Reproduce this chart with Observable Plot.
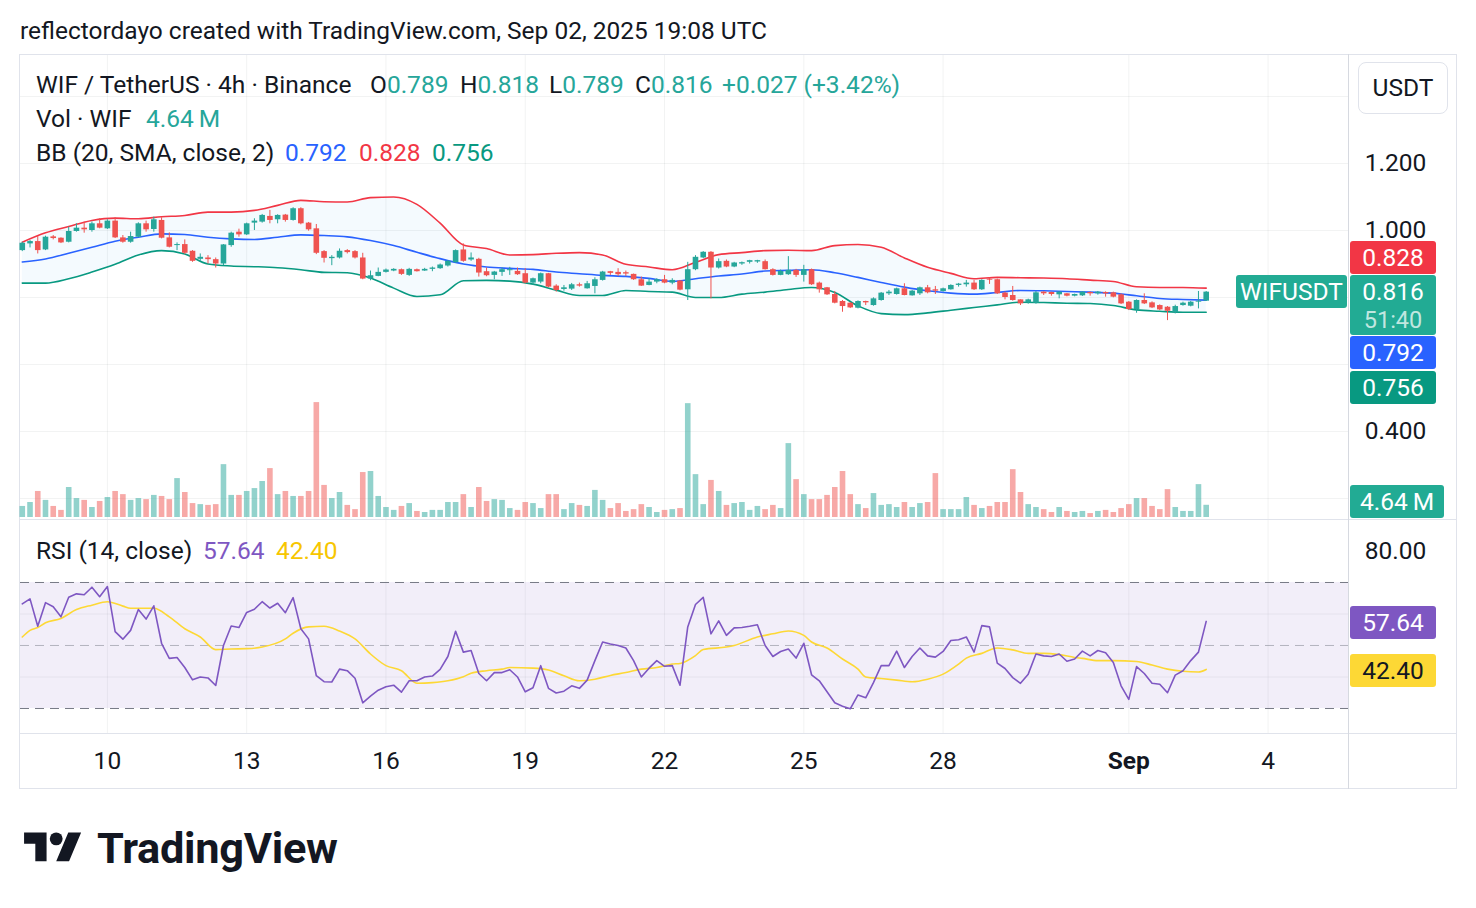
<!DOCTYPE html>
<html>
<head>
<meta charset="utf-8">
<script src="https://cdn.jsdelivr.net/npm/d3@7"></script>
<script src="https://cdn.jsdelivr.net/npm/@observablehq/plot@0.6"></script>
<style>
html,body{margin:0;padding:0;background:#fff;}
#root{position:relative;width:1476px;height:908px;overflow:hidden;font-family:Roboto,"Noto Sans",sans-serif;color:#131722;}
.t{position:absolute;white-space:nowrap;line-height:1;transform:translateY(-50%);}
.box{position:absolute;color:#fff;text-align:center;border-radius:3px;white-space:nowrap;}
.pane{position:absolute;}
.pane svg{display:block;overflow:visible;max-width:none;}
.hl{position:absolute;}
</style>
</head>
<body>
<div id="root"></div>
<script>
// ---------------- DATA ----------------
// 4h candles, first candle Aug 8 2025 04:00 UTC, 154 candles
const firstCandleUTC = Date.UTC(2025, 7, 8, 4);
const candleHours = 4;

const opens = [
.940,.960,.967,.942,.981,.977,.965,.997,1.007,1.000,
1.020,1.005,1.028,.978,.965,.980,1.020,1.003,1.030,.978,
.955,.958,.938,.914,.918,.913,.900,.955,.995,.987,
1.022,1.025,1.042,1.032,1.046,1.030,1.065,1.022,1.005,.937,
.916,.918,.940,.937,.918,.855,.863,.875,.879,.883,
.866,.883,.879,.884,.886,.894,.904,.942,.912,.914,
.877,.866,.875,.880,.878,.871,.843,.846,.871,.834,
.824,.825,.838,.826,.833,.851,.877,.875,.874,.869,
.853,.836,.846,.853,.843,.849,.823,.883,.918,.935,
.888,.908,.891,.900,.905,.906,.907,.883,.866,.868,
.881,.866,.883,.843,.829,.809,.788,.783,.768,.788,
.776,.791,.811,.809,.826,.805,.811,.829,.823,.818,
.823,.836,.838,.843,.823,.853,.853,.813,.806,.793,
.784,.783,.816,.815,.808,.811,.804,.805,.815,.811,
.815,.814,.808,.786,.764,.791,.784,.776,.771,.754,
.776,.774,.786,.789];
const highs = [
.965,.970,.982,.983,.985,.978,1.010,1.020,1.025,1.025,
1.035,1.032,1.038,.985,.995,1.023,1.028,1.040,1.038,.993,
.963,.972,.940,.930,.925,.918,.958,.995,1.004,1.022,
1.035,1.048,1.060,1.047,1.048,1.068,1.068,1.024,1.018,.940,
.925,.945,.943,.940,.932,.879,.888,.885,.886,.885,
.887,.885,.887,.891,.900,.910,.942,.960,.933,.917,
.888,.878,.888,.890,.888,.886,.858,.873,.872,.838,
.836,.842,.843,.848,.859,.878,.878,.886,.879,.870,
.861,.856,.856,.866,.856,.851,.905,.925,.937,.937,
.915,.912,.905,.906,.911,.911,.912,.886,.882,.922,
.884,.896,.885,.846,.830,.818,.791,.785,.790,.789,
.799,.815,.821,.828,.841,.821,.831,.836,.833,.828,
.838,.842,.851,.851,.853,.858,.855,.816,.833,.793,
.795,.818,.817,.816,.817,.812,.810,.817,.817,.818,
.817,.816,.811,.788,.793,.811,.787,.778,.773,.777,
.786,.788,.818,.818];
const lows = [
.937,.948,.930,.940,.972,.961,.963,.995,.992,.995,
1.005,1.003,.976,.962,.962,.978,.995,.995,.975,.948,
.940,.928,.905,.908,.900,.888,.895,.950,.980,.985,
1.000,1.022,1.020,1.020,1.025,1.028,1.017,.998,.928,.903,
.895,.915,.930,.915,.853,.850,.862,.873,.877,.866,
.863,.876,.878,.877,.884,.891,.902,.905,.908,.861,
.862,.853,.863,.866,.866,.841,.836,.841,.829,.816,
.819,.821,.831,.825,.811,.849,.866,.863,.863,.851,
.833,.835,.841,.841,.838,.820,.791,.880,.916,.796,
.885,.889,.889,.896,.900,.902,.882,.864,.865,.866,
.860,.846,.836,.813,.806,.781,.756,.767,.766,.776,
.774,.789,.806,.807,.805,.804,.806,.811,.809,.816,
.822,.831,.831,.821,.821,.839,.809,.793,.789,.776,
.780,.780,.806,.804,.796,.802,.802,.803,.804,.807,
.801,.799,.779,.761,.753,.779,.767,.761,.731,.751,
.774,.772,.766,.789];
const closes = [
.962,.967,.940,.980,.976,.963,.997,1.007,1.002,1.020,
1.007,1.028,.978,.965,.982,1.020,1.002,1.032,.977,.950,
.958,.932,.908,.920,.913,.900,.957,.992,.987,1.020,
1.028,1.045,1.030,1.045,1.030,1.065,1.020,1.002,.932,.917,
.920,.938,.934,.918,.855,.865,.875,.882,.884,.869,
.884,.877,.884,.888,.897,.908,.940,.908,.918,.873,
.865,.876,.883,.883,.868,.843,.856,.871,.831,.821,
.829,.838,.834,.841,.853,.876,.872,.868,.870,.853,
.834,.846,.853,.843,.851,.822,.883,.920,.935,.888,
.907,.891,.903,.904,.910,.910,.883,.866,.878,.881,
.866,.883,.838,.823,.808,.783,.773,.769,.788,.784,
.796,.813,.816,.826,.806,.819,.829,.814,.819,.826,
.836,.840,.843,.823,.851,.851,.811,.800,.791,.781,
.793,.814,.811,.809,.816,.804,.809,.816,.811,.816,
.811,.801,.781,.764,.791,.781,.769,.763,.759,.773,
.783,.786,.789,.816];
// volume in millions of WIF
const volumes = [
4.2,5.7,9.9,6.5,4.2,2.7,11.4,7.2,6.5,3.8,
6.1,7.6,9.9,8.7,6.5,7.2,6.8,8.4,8.0,6.8,
14.8,9.5,5.3,4.9,4.6,4.9,20.1,8.4,8.4,9.9,
11.0,13.7,18.6,8.7,9.9,8.0,8.0,9.9,43.7,12.2,
7.2,9.5,4.6,3.0,17.1,17.5,8.0,3.8,2.7,4.2,
5.3,2.3,1.9,2.7,2.7,5.7,5.7,8.7,3.8,11.4,
6.1,6.8,6.5,3.4,2.7,5.7,5.3,3.4,8.7,8.7,
3.0,5.3,4.6,4.2,10.3,6.5,3.4,5.3,2.3,3.0,
4.9,3.8,1.9,2.7,3.0,3.4,43.3,16.3,4.9,14.1,
9.9,4.6,5.3,5.7,2.7,4.2,3.0,4.6,3.4,28.1,
14.4,8.7,6.8,6.8,8.4,11.4,17.5,8.7,4.9,3.4,
9.1,4.6,4.9,3.8,5.7,3.8,5.3,5.7,16.7,3.0,
3.0,3.0,7.6,4.6,3.4,4.2,5.7,5.7,18.2,9.5,
4.9,3.8,3.0,1.9,3.8,2.3,1.9,2.3,1.5,2.3,
2.7,1.9,3.4,4.9,7.2,7.2,4.2,3.0,10.6,3.8,
2.3,2.3,12.5,4.64];
// Bollinger Bands (20, 2) read every 3rd candle
const bbStep = 3;
const bbUpper = [.965,.993,1.012,1.030,1.037,1.035,1.041,1.045,1.055,1.055,1.060,1.075,1.090,1.086,1.085,1.098,1.100,1.078,1.022,.957,.946,.927,.928,.932,.934,.927,.899,.891,.883,.905,.928,.934,.940,.941,.940,.955,.958,.950,.918,.890,.872,.856,.860,.859,.858,.856,.852,.848,.832,.830,.830,.828];
const bbBasis = [.906,.915,.932,.950,.968,.980,.990,.988,.980,.975,.973,.980,.987,.985,.981,.970,.955,.935,.916,.900,.891,.887,.884,.876,.871,.866,.863,.857,.848,.856,.864,.870,.879,.881,.883,.874,.860,.845,.831,.820,.813,.810,.815,.821,.820,.818,.816,.813,.805,.797,.794,.792];
const bbLower = [.843,.843,.856,.876,.899,.927,.940,.930,.900,.894,.892,.889,.883,.875,.874,.858,.828,.803,.808,.850,.851,.849,.840,.822,.806,.806,.821,.818,.816,.800,.800,.810,.816,.824,.830,.815,.775,.752,.749,.754,.762,.770,.778,.786,.785,.783,.782,.776,.763,.759,.756,.756];
// RSI(14) per candle
const rsiValues = [
63.2,64.8,56.1,63.6,62.3,59.1,65.3,66.4,66.1,68.5,
65.5,68.7,54.4,52.0,54.8,61.4,58.4,62.6,50.7,45.9,
46.2,43.0,39.1,40.0,39.7,37.3,50.0,56.2,55.7,60.5,
61.5,63.9,61.9,63.4,60.4,65.2,55.3,52.1,40.4,38.5,
38.4,42.5,42.0,39.6,31.8,33.9,35.8,36.9,37.4,35.2,
38.8,38.8,40.0,40.3,42.4,46.5,54.5,47.9,48.4,41.1,
38.8,41.4,41.4,42.3,40.0,35.3,36.6,43.6,36.4,34.9,
35.5,37.2,36.4,39.0,45.2,51.1,50.5,50.0,49.2,45.2,
40.0,42.8,45.2,43.4,43.6,37.4,55.9,63.0,65.3,53.7,
57.8,53.2,55.6,55.7,56.1,56.6,50.0,46.5,48.1,48.9,
46.0,50.7,40.7,38.8,35.3,31.8,30.7,29.9,34.3,33.4,
38.2,43.6,43.6,48.2,43.0,46.5,49.2,46.7,46.3,48.1,
51.6,51.8,52.7,47.9,56.3,55.9,44.4,42.7,39.8,38.0,
40.9,47.3,46.7,46.5,47.3,45.0,45.7,48.2,46.7,48.4,
47.7,44.6,37.2,32.9,43.3,41.1,38.0,37.7,35.0,40.6,
42.0,45.2,47.9,57.64];
// RSI-based MA, read at these candle indices
const rsiMaIndex = [0,1,2,3,5,7,9,11,13,14,17,19,21,23,25,27,29,31,34,35,37,39,41,43,45,47,49,51,53,55,57,58,60,62,63,66,68,70,72,74,76,78,80,82,84,85,87,88,91,92,95,97,99,101,102,104,106,108,109,111,113,115,117,119,121,122,124,126,128,130,132,134,136,137,139,141,144,146,148,150,152,153];
const rsiMaValues = [52.7,54.8,55.7,57.2,58.6,61.4,62.8,63.9,62.5,61.8,61.8,59.1,55.3,52.7,48.7,48.9,49.0,49.5,52.1,53.9,55.9,56.1,54.6,52.1,47.3,43.6,42.0,38.0,38.2,38.8,40.1,41.2,42.0,42.5,43.0,42.8,42.2,40.4,38.8,39.3,40.5,41.4,42.5,43.0,44.1,44.3,46.8,48.7,49.5,50.0,52.7,53.7,54.6,53.2,51.1,49.2,45.7,42.5,40.0,39.5,39.0,38.5,39.3,40.9,44.1,46.0,47.5,49.2,48.6,47.5,47.5,47.1,46.2,45.9,45.2,45.2,44.9,43.8,42.5,41.8,41.6,42.4];
// axes
const xTickDates = [Date.UTC(2025,7,10),Date.UTC(2025,7,13),Date.UTC(2025,7,16),Date.UTC(2025,7,19),Date.UTC(2025,7,22),Date.UTC(2025,7,25),Date.UTC(2025,7,28),Date.UTC(2025,8,1),Date.UTC(2025,8,4)];
const xTickLabels = ["10","13","16","19","22","25","28","Sep","4"];
const priceGrid = [0.2,0.4,0.6,0.8,1.0,1.2,1.4];
const priceTickLabels = [0.4,1.0,1.2];
const rsiTickLabels = [80];
// legend values
const lastO = 0.789, lastH = 0.818, lastL = 0.789, lastC = 0.816, chg = "+0.027 (+3.42%)";
const lastVol = 4.64, bbNow = {basis:0.792, upper:0.828, lower:0.756};
const rsiNow = 57.64, rsiMaNow = 42.40;
const countdown = "51:40";

// ---------------- BUILD ----------------
const UP = "#26a69a", DN = "#ef5350", TXT = "#131722", GRID = "#2a2e39";
const FONT = 'Roboto, "Noto Sans", sans-serif';
const root = document.getElementById("root");
const H = candleHours * 3600 * 1000;
const at = k => new Date(firstCandleUTC + k * H);

const candles = opens.map((o, k) => ({t: at(k), o, h: highs[k], l: lows[k], c: closes[k], v: volumes[k], up: closes[k] >= o}));
const bb = bbUpper.map((u, i) => ({t: at(i * bbStep), up: u, mid: bbBasis[i], lo: bbLower[i]}));
const rsi = rsiValues.map((v, k) => ({t: at(k), v}));
const rsiMa = rsiMaIndex.map((k, i) => ({t: at(k), v: rsiMaValues[i]}));
const ticks = xTickDates.map((d, i) => ({t: new Date(d), label: xTickLabels[i]}));

const ctx = document.createElement("canvas").getContext("2d");
function fit(text, target, weight) { ctx.font = `${weight || 400} 100px ${FONT}`; return 100 * target / ctx.measureText(text).width; }
const clamp = (v, a, b) => Math.max(a, Math.min(b, v));
const FS = clamp(fit("WIF / TetherUS · 4h · Binance", 316), 17, 26);
const titleText = "reflectordayo created with TradingView.com, Sep 02, 2025 19:08 UTC";
const FT = clamp(fit(titleText, 748), 17, 26);

const xScale = {type: "utc", domain: [at(-0.23), at(171.39)], axis: null};
const plotW = 1437, axisW = 109;
const baseStyle = {fontFamily: FONT, fontSize: FS + "px", color: TXT, background: "transparent", overflow: "visible"};

function place(el, left, top) {
  const d = document.createElement("div");
  d.className = "pane"; d.style.left = left + "px"; d.style.top = top + "px";
  d.appendChild(el); root.appendChild(d); return d;
}
function text(x, y, html, size, extra) {
  const d = document.createElement("div");
  d.className = "t"; d.style.left = x + "px"; d.style.top = y + "px";
  d.style.fontSize = (size || FS) + "px"; d.innerHTML = html;
  if (extra) Object.assign(d.style, extra);
  root.appendChild(d); return d;
}
function box(html, left, top, w, h, bg, color) {
  const d = document.createElement("div");
  d.className = "box";
  Object.assign(d.style, {left: left + "px", top: top + "px", width: w + "px", height: h + "px", lineHeight: h + "px", background: bg, color: color || "#fff", fontSize: FS + "px"});
  d.innerHTML = html; root.appendChild(d); return d;
}
function hline(left, top, w, h, c) {
  const d = document.createElement("div"); d.className = "hl";
  Object.assign(d.style, {left: left + "px", top: top + "px", width: w + "px", height: h + "px", background: c});
  root.appendChild(d);
}

// frame lines
hline(19, 54, 1438, 1, "#e0e3eb");
hline(19, 788, 1438, 1, "#e0e3eb");
hline(19, 54, 1, 735, "#e0e3eb");
hline(1456, 54, 1, 735, "#e0e3eb");

// ---- price pane ----
const priceTop = 55;
const up = candles.filter(d => d.up), dn = candles.filter(d => !d.up);
const price = Plot.plot({
  width: plotW, height: 464, marginLeft: 0, marginRight: axisW, marginTop: 0, marginBottom: 0,
  style: baseStyle,
  x: xScale,
  y: {domain: [0.1403, 1.5224], range: [463, 0], axis: null},
  marks: [
    Plot.ruleY(priceGrid, {stroke: GRID, strokeOpacity: 0.06}),
    Plot.ruleX(ticks, {x: "t", stroke: GRID, strokeOpacity: 0.06}),
    Plot.areaY(bb, {x: "t", y1: "lo", y2: "up", fill: "#2196f3", fillOpacity: 0.05, curve: "monotone-x"}),
    Plot.line(bb, {x: "t", y: "up", stroke: "#f23645", strokeWidth: 1.6, curve: "monotone-x"}),
    Plot.line(bb, {x: "t", y: "mid", stroke: "#2962ff", strokeWidth: 1.6, curve: "monotone-x"}),
    Plot.line(bb, {x: "t", y: "lo", stroke: "#089981", strokeWidth: 1.6, curve: "monotone-x"}),
    Plot.ruleX(up, {x: "t", y1: "l", y2: "h", stroke: UP, strokeWidth: 1}),
    Plot.ruleX(dn, {x: "t", y1: "l", y2: "h", stroke: DN, strokeWidth: 1}),
    Plot.ruleX(up, {x: "t", y1: "o", y2: "c", stroke: UP, strokeWidth: 5.6}),
    Plot.ruleX(dn, {x: "t", y1: "o", y2: "c", stroke: DN, strokeWidth: 5.6}),
    Plot.axisY(priceTickLabels, {anchor: "right", tickSize: 0, tickPadding: 47, textAnchor: "middle", tickFormat: d3.format(".3f"), fontSize: FS, label: null, fill: TXT})
  ]
});
place(price, 20, priceTop);

// ---- volume overlay ----
const vol = Plot.plot({
  width: plotW, height: 463, marginLeft: 0, marginRight: axisW, marginTop: 0, marginBottom: 0,
  style: baseStyle,
  x: xScale,
  y: {domain: [0, 175.7], range: [462, 0], axis: null},
  marks: [
    Plot.ruleX(up, {x: "t", y1: 0, y2: "v", stroke: UP, strokeOpacity: 0.5, strokeWidth: 5.6}),
    Plot.ruleX(dn, {x: "t", y1: 0, y2: "v", stroke: DN, strokeOpacity: 0.5, strokeWidth: 5.6})
  ]
});
place(vol, 20, priceTop);

hline(19, 519, 1438, 1, "#e0e3eb");

// ---- RSI pane ----
const rsiTop = 520;
const xDom = xScale.domain;
const rsiPlot = Plot.plot({
  width: plotW, height: 268, marginLeft: 0, marginRight: axisW, marginTop: 0, marginBottom: 55,
  style: baseStyle,
  x: xScale,
  y: {domain: [22.06, 89.68], range: [213, 0], axis: null},
  marks: [
    Plot.ruleY([40, 60], {stroke: GRID, strokeOpacity: 0.06}),
    Plot.ruleX(ticks, {x: "t", stroke: GRID, strokeOpacity: 0.06}),
    Plot.areaY(xDom.map(t => ({t})), {x: "t", y1: 30, y2: 70, fill: "#7e57c2", fillOpacity: 0.1}),
    Plot.ruleY([70, 30], {stroke: "#787b86", strokeWidth: 1, strokeDasharray: "9,6"}),
    Plot.ruleY([50], {stroke: "#787b86", strokeOpacity: 0.5, strokeWidth: 1, strokeDasharray: "9,6"}),
    Plot.line(rsiMa, {x: "t", y: "v", stroke: "#fdd835", strokeWidth: 1.6, curve: "monotone-x"}),
    Plot.line(rsi, {x: "t", y: "v", stroke: "#7e57c2", strokeWidth: 1.6}),
    Plot.text(ticks.filter(d => d.label !== "Sep"), {x: "t", text: "label", frameAnchor: "bottom", dy: 28, lineAnchor: "middle", fontSize: FS, fill: TXT}),
    Plot.text(ticks.filter(d => d.label === "Sep"), {x: "t", text: "label", frameAnchor: "bottom", dy: 28, lineAnchor: "middle", fontSize: FS, fontWeight: "bold", fill: TXT}),
    Plot.axisY(rsiTickLabels, {anchor: "right", tickSize: 0, tickPadding: 47, textAnchor: "middle", tickFormat: d3.format(".2f"), fontSize: FS, label: null, fill: TXT})
  ]
});
place(rsiPlot, 20, rsiTop);
hline(19, 733, 1438, 1, "#e0e3eb");
hline(1348, 54, 1, 735, "#d6d9e0");

// ---- right-axis value labels ----
const py = v => priceTop + price.scale("y").apply(v);
const mainTop = Math.round(py(lastC) - 16.5);
box(lastC.toFixed(3), 1350, mainTop, 86, 60, "#22ab94").style.lineHeight = "33px";
const cd = box(countdown, 1350, mainTop + 33, 86, 24, "transparent", "rgba(255,255,255,0.72)");
cd.style.fontSize = (FS - 1) + "px";
box("WIFUSDT", 1236, mainTop, 111, 33, "#22ab94");
box(bbNow.upper.toFixed(3), 1350, mainTop - 34, 86, 33, "#f23645");
box(bbNow.basis.toFixed(3), 1350, mainTop + 61, 86, 33, "#2962ff");
box(bbNow.lower.toFixed(3), 1350, mainTop + 96, 86, 33, "#089981");
const vy = priceTop + vol.scale("y").apply(lastVol);
box(lastVol.toFixed(2) + "\u2009M", 1350, Math.min(Math.round(vy - 17), 485), 94, 33, "#22ab94");
const ry = v => rsiTop + rsiPlot.scale("y").apply(v);
box(rsiNow.toFixed(2), 1350, Math.round(ry(rsiNow) - 15), 86, 33, "#7e57c2");
box(rsiMaNow.toFixed(2), 1350, Math.round(ry(rsiMaNow) - 15), 86, 33, "#fdd835", TXT);

// USDT currency box
const usdt = box("USDT", 1358, 62, 88, 50, "#fff", TXT);
usdt.style.border = "1px solid #e0e3eb"; usdt.style.borderRadius = "8px"; usdt.style.lineHeight = "50px";

// ---- texts ----
text(20, 31, titleText, FT);
const teal = s => `<span style="color:${UP}">${s}</span>`;
text(36, 85, "WIF / TetherUS · 4h · Binance");
text(370, 85, "O" + teal(lastO.toFixed(3)));
text(460, 85, "H" + teal(lastH.toFixed(3)));
text(549, 85, "L" + teal(lastL.toFixed(3)));
text(635, 85, "C" + teal(lastC.toFixed(3)));
text(722, 85, teal(chg));
text(36, 119, "Vol · WIF");
text(146, 119, teal(lastVol.toFixed(2) + "\u2009M"));
text(36, 153, "BB (20, SMA, close, 2)");
text(285, 153, `<span style="color:#2962ff">${bbNow.basis.toFixed(3)}</span>`);
text(359, 153, `<span style="color:#f23645">${bbNow.upper.toFixed(3)}</span>`);
text(432, 153, `<span style="color:#089981">${bbNow.lower.toFixed(3)}</span>`);
text(36, 551, "RSI (14, close)");
text(203, 551, `<span style="color:#7e57c2">${rsiNow.toFixed(2)}</span>`);
text(276, 551, `<span style="color:#f7c600">${rsiMaNow.toFixed(2)}</span>`);

// ---- TradingView logo ----
const logo = document.createElementNS("http://www.w3.org/2000/svg", "svg");
logo.setAttribute("viewBox", "0 0 36 28"); logo.setAttribute("width", "58"); logo.setAttribute("height", "45");
logo.style.position = "absolute"; logo.style.left = "24px"; logo.style.top = "826px";
logo.innerHTML = '<path d="M14 22H7V11H0V4h14v18zM28 22h-8l7.5-18h8L28 22z" fill="#131722"/><circle cx="20" cy="8" r="4" fill="#131722"/>';
root.appendChild(logo);
const FL = clamp(fit("TradingView", 244, 700), 30, 48);
text(97, 849, "TradingView", FL, {fontWeight: "700", letterSpacing: "-0.3px"});
</script>
</body>
</html>
